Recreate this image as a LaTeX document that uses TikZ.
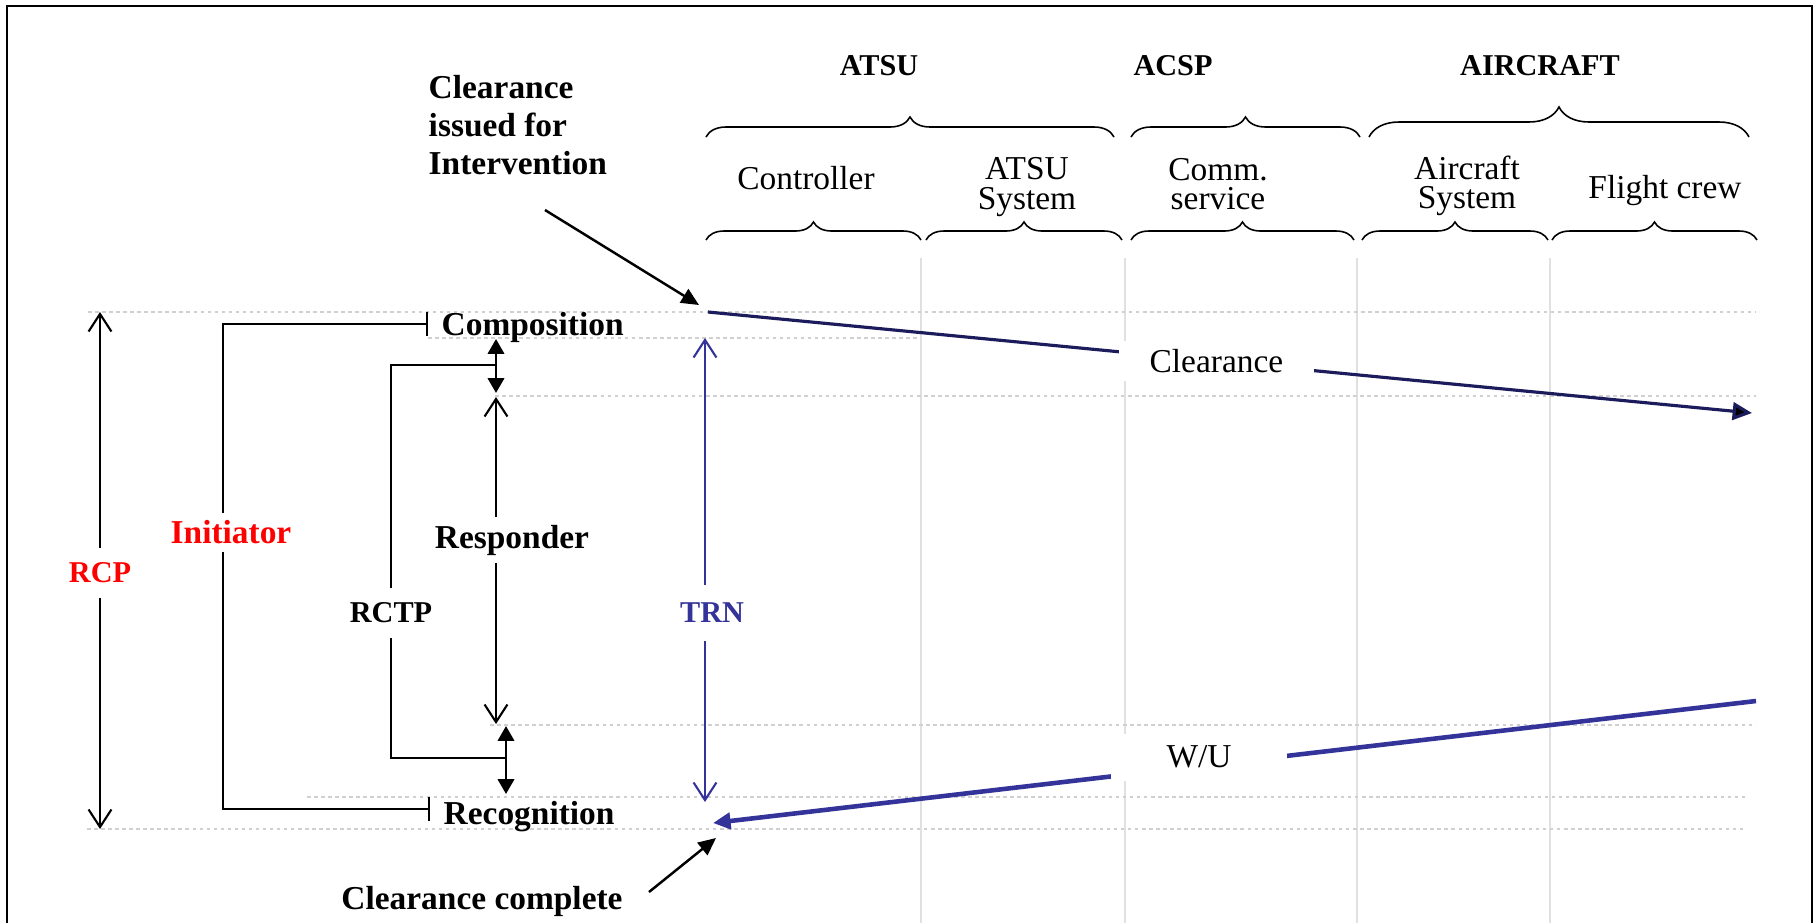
\documentclass[tikz,border=0pt]{standalone}
\usepackage{fontspec}
\setmainfont{Liberation Serif}
\usetikzlibrary{arrows.meta,positioning,calc,decorations.pathreplacing}

\definecolor{trnblue}{RGB}{51,51,153}
\definecolor{msgnavy}{RGB}{28,28,92}
\definecolor{lanegray}{RGB}{224,224,224}
\definecolor{guidegray}{RGB}{208,208,208}

\begin{document}
\begin{tikzpicture}[
    x=0.01cm, y=-0.01cm,
    lbl/.style={font=\fontsize{9.5}{10.8}\selectfont\bfseries, inner sep=2pt},
    capl/.style={font=\fontsize{8.6}{9.8}\selectfont\bfseries, inner sep=4pt},
    lane/.style={font=\fontsize{9.5}{8.3}\selectfont, align=center, inner sep=0pt},
    msglbl/.style={font=\fontsize{9.5}{10.8}\selectfont, fill=white, inner sep=0pt, minimum width=1.95cm, minimum height=0.4cm},
    brc/.style={decorate, decoration={brace, amplitude=#1}, line width=0.45pt},
    lanesep/.style={draw=lanegray, line width=0.35pt},
    guide/.style={draw=guidegray, line width=0.35pt, dash pattern=on 1pt off 1pt},
    plain/.style={line width=0.6pt},
    barb/.style={-{Straight Barb[length=5pt,width=6.5pt]}, line width=0.6pt},
    tick/.style={-{Bar[width=7pt]}, line width=0.6pt},
    dbl/.style={{Triangle[length=4.2pt,width=4.6pt]}-{Triangle[length=4.2pt,width=4.6pt]}, line width=0.8pt},
    ptr/.style={-{Triangle[length=5pt,width=4.5pt]}, line width=0.7pt},
    msg/.style={-{Triangle[length=5.5pt,width=5pt,fill=black]}, draw=msgnavy, line width=0.9pt},
    wuarr/.style={-{Triangle[length=5pt,width=4.6pt]}, draw=trnblue, line width=1.3pt}
]
    \useasboundingbox (0,0) rectangle (1820,923);

    % frame and lanes
    \draw[plain] (7,923) -- (7,6) -- (1812,6) -- (1812,923);
    \foreach \lx in {921,1125,1357,1550}
        \draw[lanesep] (\lx,258) -- (\lx,923);
    \foreach \gy/\ga/\gb in {312/88/1756, 338/428/920, 396/495/1756, 725/490/1756, 797/307/1745, 829/87/1745}
        \draw[guide] (\ga,\gy) -- (\gb,\gy);

    % headers
    \node[capl] (atsu) at (879,66) {ATSU};
    \node[capl] (acsp) at (1173,66) {ACSP};
    \node[capl] (acft) at (1540,66) {AIRCRAFT};
    \draw[brc=0.2cm] (706,137) -- (1114,137);
    \draw[brc=0.2cm] (1131,137) -- (1360,137);
    \draw[brc=0.3cm] (1369,137) -- (1749,137);

    \node[lane] (ctrl) at (806,178) {Controller};
    \node[lane] (atsusys) at (1027,187) {ATSU\\System};
    \node[lane] (comm) at (1218,184) {Comm.\\service};
    \node[lane] (acsys) at (1467,186) {Aircraft\\System};
    \node[lane] (crew) at (1665,191) {Flight crew};
    \foreach \ba/\bb in {706/921, 926/1122, 1131/1354, 1362/1548, 1552/1757}
        \draw[brc=0.18cm] (\ba,240) -- (\bb,240);

    % phase labels
    \node[lbl, align=left, anchor=west] (issued) at (421,125) {Clearance\\issued for\\Intervention};
    \node[lbl, anchor=west] (comp) at (434,327) {Composition};
    \node[lbl, anchor=west] (recog) at (436,817) {Recognition};
    \node[lbl] (done) at (482,901) {Clearance complete};

    \node[capl, text=red] (rcp) at (100,573) {RCP};
    \node[lbl, text=red] (init) at (231,532) {Initiator};
    \node[capl] (rctp) at (391,613) {RCTP};
    \node[lbl] (resp) at (512,540) {Responder};
    \node[capl, text=trnblue, inner sep=5pt] (trn) at (712,613) {TRN};

    \coordinate (rcpT) at (100,312);
    \coordinate (rcpB) at (100,829);
    \coordinate (iniX) at (223,0);
    \coordinate (compBar) at (428,324);
    \coordinate (recogBar) at (430,809);
    \coordinate (compA) at (496,339);
    \coordinate (compB) at (496,393);
    \coordinate (compMid) at (496,365);
    \coordinate (recA) at (506,726);
    \coordinate (recB) at (506,794);
    \coordinate (recMid) at (506,758);
    \coordinate (respX) at (496,0);
    \coordinate (respT) at (496,397);
    \coordinate (respB) at (496,724);
    \coordinate (trnX) at (705,0);
    \coordinate (trnT) at (705,338);
    \coordinate (trnB) at (705,802);
    \coordinate (issuedTail) at (545,210);
    \coordinate (issuedHead) at (699,305);
    \coordinate (doneTail) at (649,892);
    \coordinate (doneHead) at (716,838);
    \coordinate (clrS) at (708,312);
    \coordinate (clrE) at (1752,413);
    \coordinate (wuS) at (1756,701);
    \coordinate (wuE) at (713,823);

    % brackets and spans
    \draw[barb] (rcp) -- (rcpT);
    \draw[barb] (rcp) -- (rcpB);
    \draw[tick] (init.north -| iniX) |- (compBar);
    \draw[tick] (init.south -| iniX) |- (recogBar);
    \draw[dbl] (compA) -- (compB);
    \draw[dbl] (recA) -- (recB);
    \draw[plain] (rctp) |- (compMid);
    \draw[plain] (rctp) |- (recMid);
    \draw[barb] (resp.north -| respX) -- (respT);
    \draw[barb] (resp.south -| respX) -- (respB);
    \draw[barb, draw=trnblue] (trn.north -| trnX) -- (trnT);
    \draw[barb, draw=trnblue] (trn.south -| trnX) -- (trnB);

    % pointers and messages
    \draw[ptr] (issuedTail) -- (issuedHead);
    \draw[ptr] (doneTail) -- (doneHead);
    \draw[msg] (clrS) -- node[msglbl, pos=.487] (clr) {Clearance} (clrE);
    \draw[wuarr] (wuS) -- node[msglbl, pos=.534, yshift=0.09cm, minimum width=1.76cm, minimum height=0.47cm] (wu) {W/U} (wuE);
\end{tikzpicture}
\end{document}
